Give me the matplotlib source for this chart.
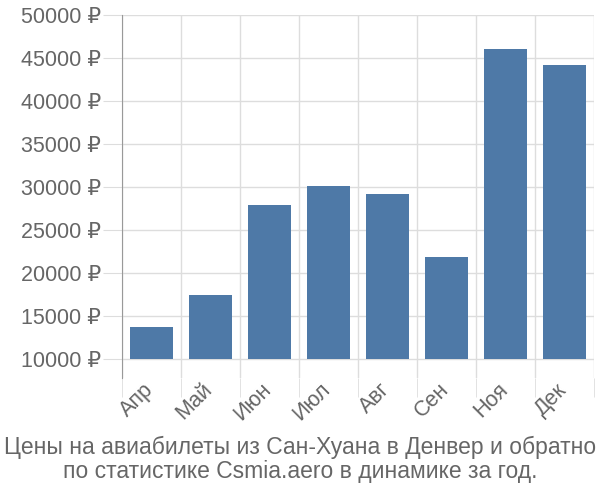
import numpy as np
import matplotlib.pyplot as plt
import matplotlib.transforms as mtransforms

plt.rcParams['font.family'] = ['Liberation Sans', 'DejaVu Sans']

months = ['Апр', 'Май', 'Июн', 'Июл', 'Авг', 'Сен', 'Ноя', 'Дек']
prices = [13700, 17400, 27900, 30100, 29200, 21900, 46000, 44150]
yticks = [10000, 15000, 20000, 25000, 30000, 35000, 40000, 45000, 50000]
title = 'Цены на авиабилеты из Сан-Хуана в Денвер и обратно\nпо статистике Csmia.aero в динамике за год.'

fig = plt.figure(figsize=(6, 5), dpi=100)
ax = fig.add_axes([0.203, 0.244, 0.787, 0.726])

x = np.arange(len(months))
base = 10000
ax.bar(x, [p - base for p in prices], bottom=base, width=0.72, color='#4e79a7', zorder=3)

ax.set_xlim(-0.5, len(months) - 0.5)
ax.set_ylim(7800, 50000)

ax.set_yticks(yticks)
ax.set_yticklabels([f'{v} ₽' for v in yticks])
ax.set_xticks(x)
ax.set_xticklabels(months, rotation=45, ha='right', rotation_mode='anchor')
ax.set_xticks(np.arange(-0.5, len(months)), minor=True)

ax.grid(axis='y', color='#dddddd', linewidth=1, zorder=0)
ax.grid(axis='x', which='minor', color='#dddddd', linewidth=1, zorder=0)

ax.tick_params(axis='y', length=14, color='#dddddd', labelsize=15.5, labelcolor='#666666', pad=1)
ax.tick_params(axis='x', which='major', length=0, labelsize=15.5, labelcolor='#666666', pad=1)
ax.tick_params(axis='x', which='minor', length=14, color='#dddddd')

# shift month labels a bit to the left
shift = mtransforms.ScaledTranslation(-6 / 72, 0, fig.dpi_scale_trans)
for lbl in ax.get_xticklabels():
    lbl.set_transform(lbl.get_transform() + shift)

for s in ['top', 'right', 'bottom']:
    ax.spines[s].set_visible(False)
ax.spines['left'].set_color('#999999')

fig.text(0.5, 0.081, title, ha='center', va='center', fontsize=16.5, color='#666666', linespacing=1.1)

fig.savefig('out.png', dpi=100)
